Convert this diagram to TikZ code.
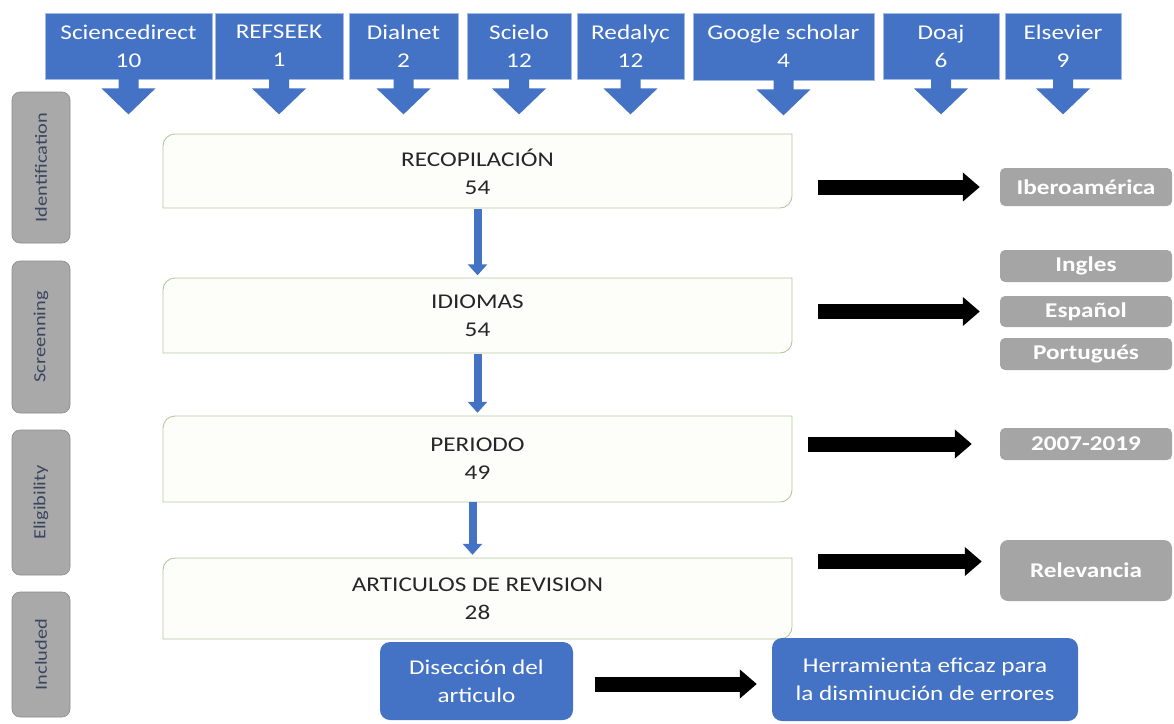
\documentclass[tikz,border=0pt]{standalone}
\usepackage{fontspec}
\setmainfont{Carlito}[FakeStretch=1.2]
\usetikzlibrary{arrows.meta,calc}
\definecolor{obl}{HTML}{4472C4}
\definecolor{oblb}{HTML}{A3BAE3}
\definecolor{gbox}{HTML}{A5A5A5}
\definecolor{side}{HTML}{A9A9A9}
\definecolor{sideb}{HTML}{8C8C8C}
\definecolor{sidet}{HTML}{3A4660}
\definecolor{mfill}{HTML}{FDFEF9}
\definecolor{mdraw}{HTML}{B6C89F}
\definecolor{mtext}{HTML}{262626}
\newcommand\rdshape[4]{%
  \path[mainshape] (#1,#4) -- (#1,#2+12) arc[start angle=180,end angle=270,radius=12]
    -- (#3,#2) -- (#3,#4-12) arc[start angle=0,end angle=90,radius=12] -- cycle;}
\begin{document}
\begin{tikzpicture}[x=1pt,y=-1pt,
  src/.style={fill=obl,draw=oblb,line width=0.8pt,text=white,align=center,inner sep=0pt,
    minimum height=66pt,font=\fontsize{21}{28}\selectfont},
  blockdn/.pic={\fill[obl] (-10,-1) -- (-10,9) -- (-27,9) -- (0,35) -- (27,9) -- (10,9) -- (10,-1) -- cycle;},
  sidelab/.style={fill=side,draw=sideb,line width=0.6pt,rounded corners=8pt,rotate=90,
    minimum height=58pt,inner sep=0pt,text=sidet,font=\fontsize{17}{20}\selectfont},
  mainshape/.style={fill=mfill,draw=mdraw,line width=0.9pt},
  mainnode/.style={minimum width=629pt,inner sep=0pt,align=center,text=mtext,
    font=\fontsize{21}{28}\selectfont},
  gray/.style={fill=gbox,rounded corners=5pt,minimum width=172pt,inner sep=0pt,text=white,
    font=\fontsize{21}{24}\selectfont\bfseries},
  outbox/.style={fill=obl,rounded corners=10pt,inner sep=0pt,text=white,align=center,
    font=\fontsize{21}{28}\selectfont},
  bluearr/.style={draw=obl,line width=8pt,-{Triangle[width=19pt,length=11pt]},shorten >=3pt},
  blk/.style={draw=black,line width=15pt,-{Triangle[width=28pt,length=17pt]}}
]
\useasboundingbox (0,0) rectangle (1174,723);

% top sources
\node[src,minimum width=167pt] (sd) at (128.5,46) {Sciencedirect\\10};
\node[src,minimum width=128pt] (ref) at (279,46) {REFSEEK\\1};
\node[src,minimum width=109pt] (dia) at (403.5,46) {Dialnet\\2};
\node[src,minimum width=104pt] (sci) at (519,46) {Scielo\\12};
\node[src,minimum width=107pt] (red) at (630.5,46) {Redalyc\\12};
\node[src,minimum width=181pt,minimum height=67pt] (goo) at (783.5,46.5) {Google scholar\\4};
\node[src,minimum width=116pt] (doa) at (941,46) {Doaj\\6};
\node[src,minimum width=116pt] (els) at (1063,46) {Elsevier\\9};
\foreach \n in {sd,ref,dia,sci,red,goo,doa,els} \pic at (\n.south) {blockdn};

% side labels
\node[sidelab,minimum width=151pt] (ident) at (41,167.5) {Identification};
\node[sidelab,minimum width=152pt] (screen) at (41,337) {Screenning};
\node[sidelab,minimum width=145pt] (elig) at (41,502.5) {Eligibility};
\node[sidelab,minimum width=125pt] (incl) at (41,654.5) {Included};

% main boxes
\rdshape{163}{134}{792}{208}
\node[mainnode,minimum height=74pt] (rec) at (477.5,172) {RECOPILACIÓN\\54};
\rdshape{163}{278}{792}{353}
\node[mainnode,minimum height=75pt] (idi) at (477.5,316) {IDIOMAS\\54};
\rdshape{163}{416}{792}{502}
\node[mainnode,minimum height=86pt] (per) at (477.5,459) {PERIODO\\49};
\rdshape{163}{558}{792}{639}
\node[mainnode,minimum height=81pt] (art) at (477.5,598.5) {ARTICULOS DE REVISION\\28};

\draw[bluearr] (rec.south) -- (idi.north);
\draw[bluearr] (idi.south) -- (per.north);
\draw[bluearr] ([xshift=-5pt]per.south) -- ([xshift=-5pt]art.north);

% right gray boxes
\node[gray,minimum height=38pt] (ibero) at (1086,187) {Iberoamérica};
\node[gray,minimum height=32pt] (ing) at (1086,266) {Ingles};
\node[gray,minimum height=31pt] (esp) at (1086,311.5) {Español};
\node[gray,minimum height=32pt] (por) at (1086,354) {Portugués};
\node[gray,minimum height=32pt] (yrs) at (1086,444) {2007-2019};
\node[gray,minimum height=61pt,rounded corners=8pt] (rel) at (1086,570.5) {Relevancia};
\coordinate (relin) at ([yshift=9pt]rel.west);

\draw[blk,shorten <=26pt,shorten >=20pt] (rec.east |- ibero.west) -- (ibero.west);
\draw[blk,shorten <=26pt,shorten >=20pt] (idi.east |- esp.west) -- (esp.west);
\draw[blk,shorten <=16pt,shorten >=28pt] (per.east |- yrs.west) -- (yrs.west);
\draw[blk,shorten <=26pt,shorten >=18pt] (art.east |- relin) -- (relin);

% bottom boxes
\node[outbox,minimum width=193pt,minimum height=78pt] (dis) at (476.5,681) {Disección del\\articulo};
\node[outbox,minimum width=306pt,minimum height=83pt] (her) at (925,679.5) {Herramienta eficaz para\\la disminución de errores};
\draw[blk,shorten <=22pt,shorten >=15pt] ([yshift=-3pt]dis.east) -- ([yshift=-3pt]dis.east -| her.west);
\end{tikzpicture}
\end{document}
